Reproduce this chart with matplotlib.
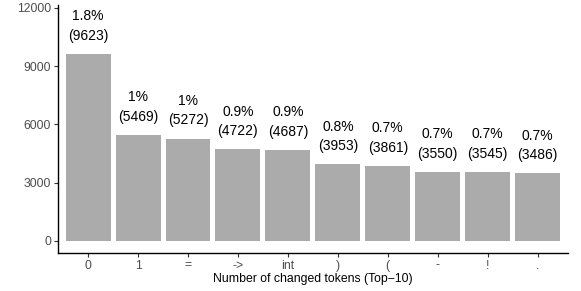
import matplotlib
matplotlib.use("Agg")
import matplotlib.pyplot as plt

# data
tokens = ["0", "1", "=", "->", "int", ")", "(", "-", "!", "."]
counts = [9623, 5469, 5272, 4722, 4687, 3953, 3861, 3550, 3545, 3486]
shares = ["1.8%", "1%", "1%", "0.9%", "0.9%", "0.8%", "0.7%", "0.7%", "0.7%", "0.7%"]
y_ticks = [0, 3000, 6000, 9000, 12000]

plt.rcParams["font.family"] = ["Liberation Sans", "DejaVu Sans"]

fig = plt.figure(figsize=(5.81, 2.91), dpi=100)
ax = fig.add_axes([0.1, 0.132, 0.877, 0.851])

x = list(range(len(tokens)))
ax.bar(x, counts, width=0.9, color="#ababab")

for xi, c, s in zip(x, counts, shares):
    ax.annotate(f"{s}\n({c})", xy=(xi, c), xytext=(0, 8), textcoords="offset points",
                ha="center", va="bottom", fontsize=10, linespacing=1.5, color="black")

ax.set_xlim(-0.6, 9.6)
ax.set_ylim(-600, 12150)
ax.set_xticks(x)
ax.set_xticklabels(tokens)
ax.set_yticks(y_ticks)
ax.tick_params(axis="both", labelsize=8.8, labelcolor="#4d4d4d", color="#333333",
               length=3, width=0.8, pad=2)
ax.set_xlabel("Number of changed tokens (Top\u221210)", fontsize=8.8, labelpad=1)

for side in ["top", "right"]:
    ax.spines[side].set_visible(False)
for side in ["left", "bottom"]:
    ax.spines[side].set_linewidth(1.0)

fig.savefig("out.png", dpi=100)
